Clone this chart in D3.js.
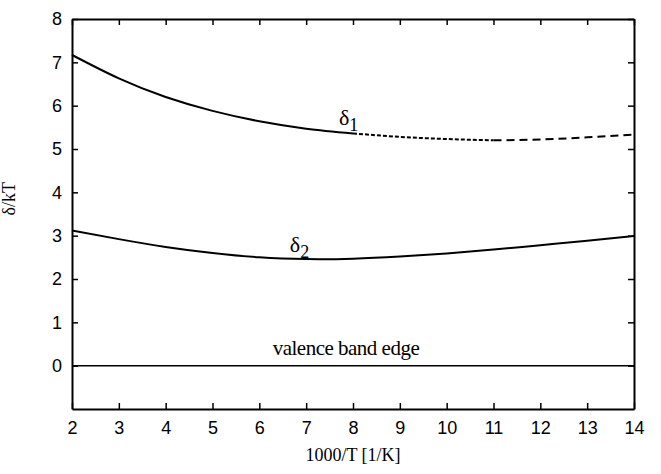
<!DOCTYPE html>
<meta charset="utf-8">
<style>
body { margin: 0; background: #fff; }
.curve { fill: none; stroke: #000; stroke-width: 2px; }
.tick text { font-family: "Liberation Sans", Arial, sans-serif; font-size: 18px; fill: #000; }
.lbl { font-family: "Liberation Serif", "Times New Roman", serif; fill: #000; }
</style>
<body>
<script src="https://d3js.org/d3.v7.min.js"></script>
<script>

// data
var xVals = [2, 3, 4, 5, 6, 7, 8, 9, 10, 11, 12, 13, 14];
var delta1 = [7.17, 6.63, 6.2, 5.88, 5.64, 5.47, 5.36, 5.28, 5.23, 5.2, 5.22, 5.27, 5.33];
var delta2 = [3.12, 2.92, 2.74, 2.6, 2.5, 2.46, 2.47, 2.52, 2.59, 2.68, 2.78, 2.88, 2.99];
var xTicks = [2, 3, 4, 5, 6, 7, 8, 9, 10, 11, 12, 13, 14];
var yTicks = [0, 1, 2, 3, 4, 5, 6, 7, 8];

var margin = {top: 19, right: 27, bottom: 65, left: 72},
    width = 661 - margin.left - margin.right,
    height = 474 - margin.top - margin.bottom;

var x = d3.scaleLinear().domain([2, 14]).range([0, width]);
var y = d3.scaleLinear().domain([-1, 8]).range([height, 0]);

var svg = d3.select("body").append("svg")
    .attr("width", 661)
    .attr("height", 474)
  .append("g")
    .attr("transform", "translate(" + margin.left + "," + margin.top + ")");

// axes, ticks pointing inward on all four sides
svg.append("g")
    .attr("transform", "translate(0," + height + ")")
    .call(d3.axisBottom(x).tickValues(xTicks).tickSize(-6).tickPadding(12).tickSizeOuter(0));
svg.append("g")
    .call(d3.axisLeft(y).tickValues(yTicks).tickSize(-6).tickPadding(10).tickSizeOuter(0));
svg.append("g")
    .call(d3.axisTop(x).tickValues(xTicks).tickSize(-6).tickFormat("").tickSizeOuter(0));
svg.append("g")
    .attr("transform", "translate(" + width + ",0)")
    .call(d3.axisRight(y).tickValues(yTicks).tickSize(-6).tickFormat("").tickSizeOuter(0));
svg.selectAll(".domain").attr("stroke-width", 2);
svg.selectAll(".tick line").attr("stroke-width", 1.5);

// valence band edge
svg.append("line")
    .attr("x1", x(2)).attr("x2", x(14))
    .attr("y1", y(0)).attr("y2", y(0))
    .attr("stroke", "#000").attr("stroke-width", 1.5);

var pts1 = xVals.map(function(d, i) { return [d, delta1[i]]; });
var pts2 = xVals.map(function(d, i) { return [d, delta2[i]]; });

var line = d3.line()
    .x(function(d) { return x(d[0]); })
    .y(function(d) { return y(d[1]); })
    .curve(d3.curveNatural);

// delta1: solid, then short dashes, then longer dashes
svg.append("path").datum(pts1.slice(0, 7)).attr("class", "curve").attr("d", line);
svg.append("path").datum(pts1.slice(6, 10)).attr("class", "curve")
    .attr("stroke-dasharray", "4,2").attr("d", line);
svg.append("path").datum(pts1.slice(9)).attr("class", "curve")
    .attr("stroke-dasharray", "8,5").attr("d", line);

svg.append("path").datum(pts2).attr("class", "curve").attr("d", line);

// curve labels
function deltaLabel(xv, yv, sub) {
  var t = svg.append("text").attr("class", "lbl")
      .attr("x", x(xv)).attr("y", y(yv))
      .attr("font-size", "22px");
  t.append("tspan").text("δ");
  t.append("tspan").attr("dy", 6).attr("font-size", "18px").text(sub);
}
deltaLabel(7.7, 5.55, "1");
deltaLabel(6.65, 2.63, "2");

svg.append("text").attr("class", "lbl")
    .attr("x", x(7.85)).attr("y", y(0) - 11)
    .attr("text-anchor", "middle")
    .attr("font-size", "21px")
    .attr("letter-spacing", "-0.5px")
    .text("valence band edge");

// axis titles
svg.append("text").attr("class", "lbl")
    .attr("x", width / 2).attr("y", height + 52)
    .attr("text-anchor", "middle")
    .attr("font-size", "18px")
    .text("1000/T [1/K]");

svg.append("text").attr("class", "lbl")
    .attr("transform", "translate(" + (-57) + "," + y(3.85) + ") rotate(-90)")
    .attr("text-anchor", "middle")
    .attr("font-size", "18px")
    .text("δ/kT");

</script>
</body>
